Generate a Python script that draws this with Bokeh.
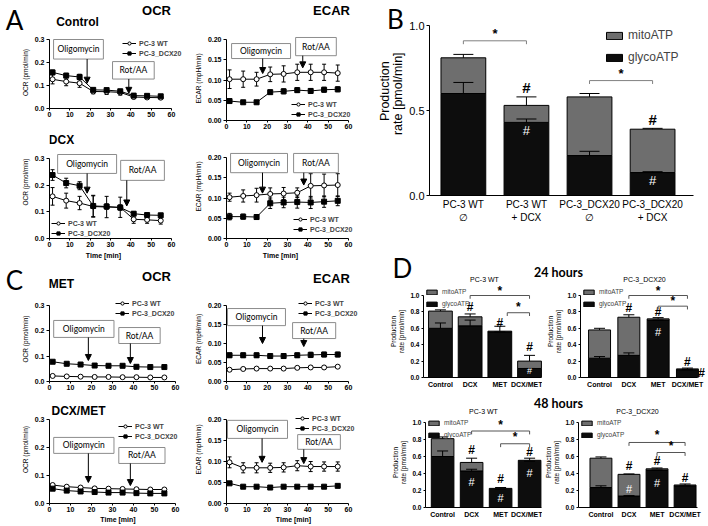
import math
from bokeh.plotting import figure
from bokeh.models import (Range1d, ColumnDataSource, Whisker, TeeHead, Label, BoxAnnotation,
                          Arrow, NormalHead, Legend, LegendItem, FixedTicker, NumeralTickFormatter)
from bokeh.layouts import row, column
from bokeh.embed import file_html
from bokeh.resources import INLINE

# ---------------- data ----------------
times = [1.5, 8.2, 14.8, 21.5, 28.1, 34.8, 41.4, 48.0, 54.7]
time_ticks = [0, 10, 20, 30, 40, 50, 60]
ocr_ticks = [0.0, 0.1, 0.2, 0.3]
ecar_ticks = [0.0, 0.05, 0.10, 0.15, 0.20]
series_names = ["PC-3 WT", "PC-3_DCX20"]

ctrl_ocr_wt = [0.127, 0.117, 0.110, 0.074, 0.073, 0.070, 0.050, 0.048, 0.047]
ctrl_ocr_wt_err = [0.020, 0.018, 0.018, 0.010, 0.012, 0.012, 0.007, 0.006, 0.006]
ctrl_ocr_dcx = [0.157, 0.143, 0.137, 0.081, 0.080, 0.075, 0.056, 0.055, 0.053]
ctrl_ocr_dcx_err = [0.010, 0.010, 0.012, 0.006, 0.006, 0.006, 0.004, 0.004, 0.004]

ctrl_ecar_wt = [0.102, 0.102, 0.102, 0.114, 0.115, 0.119, 0.119, 0.119, 0.117]
ctrl_ecar_wt_err = [0.023, 0.020, 0.017, 0.018, 0.020, 0.020, 0.020, 0.020, 0.020]
ctrl_ecar_dcx = [0.048, 0.045, 0.045, 0.070, 0.072, 0.075, 0.073, 0.076, 0.077]
ctrl_ecar_dcx_err = [0.003, 0.004, 0.004, 0.005, 0.006, 0.006, 0.006, 0.006, 0.006]

dcx_ocr_wt = [0.158, 0.142, 0.133, 0.120, 0.118, 0.117, 0.072, 0.070, 0.067]
dcx_ocr_wt_err = [0.033, 0.028, 0.025, 0.040, 0.040, 0.038, 0.015, 0.013, 0.013]
dcx_ocr_dcx = [0.238, 0.208, 0.198, 0.122, 0.120, 0.116, 0.093, 0.088, 0.087]
dcx_ocr_dcx_err = [0.020, 0.018, 0.015, 0.040, 0.010, 0.010, 0.007, 0.006, 0.006]

dcx_ecar_wt = [0.102, 0.105, 0.107, 0.110, 0.111, 0.113, 0.130, 0.131, 0.132]
dcx_ecar_wt_err = [0.010, 0.015, 0.017, 0.015, 0.015, 0.012, 0.030, 0.028, 0.028]
dcx_ecar_dcx = [0.054, 0.054, 0.053, 0.087, 0.089, 0.090, 0.089, 0.091, 0.093]
dcx_ecar_dcx_err = [0.008, 0.006, 0.006, 0.013, 0.013, 0.015, 0.015, 0.014, 0.012]

met_ocr_wt = [0.022, 0.020, 0.019, 0.018, 0.018, 0.017, 0.017, 0.016, 0.016]
met_ocr_wt_err = [0.002, 0.002, 0.002, 0.002, 0.002, 0.002, 0.002, 0.002, 0.002]
met_ocr_dcx = [0.078, 0.070, 0.067, 0.063, 0.062, 0.062, 0.058, 0.057, 0.057]
met_ocr_dcx_err = [0.003, 0.003, 0.003, 0.003, 0.003, 0.003, 0.003, 0.003, 0.003]

met_ecar_wt = [0.031, 0.033, 0.034, 0.034, 0.034, 0.036, 0.037, 0.037, 0.039]
met_ecar_wt_err = [0.003, 0.003, 0.003, 0.003, 0.003, 0.003, 0.003, 0.003, 0.003]
met_ecar_dcx = [0.069, 0.069, 0.069, 0.067, 0.067, 0.069, 0.070, 0.071, 0.071]
met_ecar_dcx_err = [0.006, 0.006, 0.006, 0.006, 0.006, 0.006, 0.007, 0.006, 0.006]

dm_ocr_wt = [0.066, 0.060, 0.057, 0.054, 0.053, 0.052, 0.051, 0.050, 0.050]
dm_ocr_wt_err = [0.004, 0.004, 0.004, 0.004, 0.004, 0.004, 0.004, 0.004, 0.004]
dm_ocr_dcx = [0.053, 0.046, 0.043, 0.041, 0.039, 0.039, 0.037, 0.036, 0.036]
dm_ocr_dcx_err = [0.003, 0.003, 0.003, 0.003, 0.003, 0.003, 0.003, 0.003, 0.003]

dm_ecar_wt = [0.098, 0.085, 0.085, 0.085, 0.086, 0.090, 0.088, 0.088, 0.088]
dm_ecar_wt_err = [0.013, 0.012, 0.012, 0.011, 0.011, 0.012, 0.012, 0.011, 0.011]
dm_ecar_dcx = [0.048, 0.040, 0.040, 0.038, 0.040, 0.040, 0.040, 0.040, 0.042]
dm_ecar_dcx_err = [0.003, 0.003, 0.003, 0.003, 0.003, 0.003, 0.003, 0.003, 0.003]

# ATP production rate (bars)
b_cats = ["PC-3 WT\n\u2205", "PC-3 WT\n+ DCX", "PC-3_DCX20\n\u2205", "PC-3_DCX20\n+ DCX"]
b_glyco = [0.600, 0.430, 0.235, 0.135]
b_mito = [0.210, 0.100, 0.345, 0.255]
b_glyco_err = [0.065, 0.020, 0.025, 0.005]
b_total_err = [0.020, 0.050, 0.020, 0.005]

d_cats = ["Control", "DCX", "MET", "DCX/MET"]
d24_wt_glyco = [0.600, 0.630, 0.555, 0.110]
d24_wt_mito = [0.210, 0.110, 0.010, 0.090]
d24_wt_glyco_err = [0.065, 0.070, 0.000, 0.000]
d24_wt_total_err = [0.015, 0.035, 0.060, 0.070]

d24_dcx_glyco = [0.235, 0.270, 0.700, 0.095]
d24_dcx_mito = [0.345, 0.465, 0.015, 0.010]
d24_dcx_glyco_err = [0.020, 0.030, 0.000, 0.000]
d24_dcx_total_err = [0.020, 0.030, 0.015, 0.010]

d48_wt_glyco = [0.600, 0.430, 0.215, 0.545]
d48_wt_mito = [0.210, 0.100, 0.010, 0.010]
d48_wt_glyco_err = [0.065, 0.020, 0.000, 0.000]
d48_wt_total_err = [0.020, 0.050, 0.010, 0.025]

d48_dcx_glyco = [0.235, 0.135, 0.440, 0.255]
d48_dcx_mito = [0.345, 0.255, 0.015, 0.010]
d48_dcx_glyco_err = [0.020, 0.005, 0.000, 0.000]
d48_dcx_total_err = [0.015, 0.005, 0.010, 0.012]

# ---------------- helpers ----------------
LS = "Liberation Sans"
LATO = "Lato"
GRAY = "#6e6e6e"
DARK = "#0d0d0d"


def base_fig(w, h, bl, bb, xr, yr):
    p = figure(width=w, height=h, x_range=Range1d(*xr), y_range=Range1d(*yr),
               output_backend="svg", toolbar_location=None, title=None,
               min_border_left=bl, min_border_right=0, min_border_top=0, min_border_bottom=bb)
    p.xgrid.visible = False
    p.ygrid.visible = False
    p.outline_line_color = None
    p.background_fill_color = "white"
    p.border_fill_color = "white"
    return p


def mapper(fx0, fx1, fy0, fy1, xr, yr):
    def f(rx, ry):
        x = xr[0] + (rx - fx0) / (fx1 - fx0) * (xr[1] - xr[0])
        y = yr[0] + (fy1 - ry) / (fy1 - fy0) * (yr[1] - yr[0])
        return x, y
    return f


def style_axis(ax, fs, bold, tick_out):
    ax.axis_line_color = "black"
    ax.axis_line_width = 1
    ax.major_tick_line_color = "black" if tick_out > 0 else None
    ax.major_tick_out = tick_out
    ax.major_tick_in = 0
    ax.minor_tick_line_color = None
    ax.major_label_text_font = LS
    ax.major_label_text_font_size = fs
    ax.major_label_text_font_style = "bold" if bold else "normal"
    ax.major_label_text_color = "black"
    ax.major_label_standoff = 2
    ax.axis_label_text_font = LS
    ax.axis_label_text_font_style = "normal"
    ax.axis_label_text_color = "black"
    ax.axis_label_standoff = 3


def add_text(p, x, y, s, size, bold=False, font=LS, color="black", align="center",
             baseline="middle", angle=0.0):
    p.add_layout(Label(x=x, y=y, text=s, text_font=font, text_font_size=f"{size}px",
                       text_font_style="bold" if bold else "normal", text_color=color,
                       text_align=align, text_baseline=baseline, angle=angle))


def line_panel(origin, w, h, bl, bb, x60_ref, ytop_ref, ymax, yticks, yfmt, ylabel,
               wt, wt_err, dx, dx_err, boxes, leg_xy, texts, xlabel=False):
    ox, oy = origin
    fx0, fx1, fy0, fy1 = ox + bl, ox + w, oy, oy + h - bb
    x_end = 60 * (fx1 - fx0) / (x60_ref - fx0)
    y_end = ymax * (fy1 - fy0) / (fy1 - ytop_ref)
    p = base_fig(w, h, bl, bb, (0, x_end), (0, y_end))
    R = mapper(fx0, fx1, fy0, fy1, (0, x_end), (0, y_end))
    style_axis(p.xaxis[0], "7px", True, 2)
    style_axis(p.yaxis[0], "7px", True, 3)
    p.xaxis.major_label_standoff = 1
    p.xaxis.bounds = (0, 60)
    p.yaxis.bounds = (0, ymax)
    p.xaxis.ticker = FixedTicker(ticks=time_ticks)
    p.yaxis.ticker = FixedTicker(ticks=yticks)
    p.yaxis.formatter = NumeralTickFormatter(format=yfmt)
    p.yaxis.axis_label = ylabel
    p.yaxis.axis_label_text_font_size = "6.5px"
    p.yaxis.axis_label_standoff = 3
    if xlabel:
        p.xaxis.axis_label = "Time [min]"
        p.xaxis.axis_label_text_font_size = "7px"
        p.xaxis.axis_label_text_font_style = "bold"
        p.xaxis.axis_label_standoff = 1

    rends = []
    for ys, es, marker, fill in ((wt, wt_err, "circle", "white"), (dx, dx_err, "square", "black")):
        src = ColumnDataSource(dict(x=times, y=ys,
                                    lo=[a - b for a, b in zip(ys, es)],
                                    hi=[a + b for a, b in zip(ys, es)]))
        p.add_layout(Whisker(source=src, base="x", lower="lo", upper="hi", line_color="black",
                             line_width=1,
                             upper_head=TeeHead(size=4, line_color="black", line_width=1),
                             lower_head=TeeHead(size=4, line_color="black", line_width=1)))
        l = p.line("x", "y", source=src, line_color="black", line_width=1)
        s = p.scatter("x", "y", source=src, marker=marker, size=5, fill_color=fill,
                      line_color="black", line_width=1)
        rends.append([l, s])

    for name, l, r, b, t, axx, ay0, ay1 in boxes:
        p.add_layout(BoxAnnotation(left=l, right=r, bottom=b, top=t, fill_color="white",
                                   fill_alpha=1, line_color="#8c8c8c", line_width=1, line_alpha=1))
        add_text(p, (l + r) / 2, (b + t) / 2, name, 8.5, False, LATO)
        p.add_layout(Arrow(x_start=axx, y_start=ay0, x_end=axx, y_end=ay1, line_color="black",
                           line_width=1,
                           end=NormalHead(size=6, fill_color="black", line_color="black")))

    legend = Legend(items=[LegendItem(label=series_names[0], renderers=rends[0]),
                           LegendItem(label=series_names[1], renderers=rends[1])],
                    location=leg_xy, label_text_font=LS, label_text_font_size="7px",
                    label_text_font_style="bold", glyph_width=14, glyph_height=8,
                    label_height=8, spacing=2, padding=0, margin=0, label_standoff=3,
                    background_fill_alpha=0, border_line_alpha=0)
    p.add_layout(legend)

    for s, rx, ry, size, bold, font in texts:
        x, y = R(rx, ry)
        add_text(p, x, y, s, size, bold, font)
    return p


def bar_panel(origin, w, h, bl, bb, x_start, spacing, x_axis_end, one_ref, cats,
              glyco, mito, gerr, terr, bw, cap,
              tick_fs, tick_bold, tick_out, cat_fs, cat_bold, yticks, ylabel, ylabel_fs,
              leg_xy, leg_glyph, leg_fs, leg_spacing, marks, brackets, bcolor, star_fs, btick):
    ox, oy = origin
    fx0, fx1, fy0, fy1 = ox + bl, ox + w, oy, oy + h - bb
    x_end = x_start + (fx1 - fx0) / spacing
    y_end = (fy1 - fy0) / (fy1 - one_ref)
    p = base_fig(w, h, bl, bb, (x_start, x_end), (0, y_end))
    style_axis(p.xaxis[0], cat_fs, cat_bold, 0)
    style_axis(p.yaxis[0], tick_fs, tick_bold, tick_out)
    p.xaxis.bounds = (x_start, x_axis_end)
    p.yaxis.bounds = (0, 1.0)
    idx = list(range(len(cats)))
    p.xaxis.ticker = FixedTicker(ticks=idx)
    p.xaxis.major_label_overrides = {i: c for i, c in zip(idx, cats)}
    p.xaxis.major_label_standoff = 3
    p.yaxis.ticker = FixedTicker(ticks=yticks)
    p.yaxis.formatter = NumeralTickFormatter(format="0.0")
    if ylabel:
        p.yaxis.axis_label = ylabel
        p.yaxis.axis_label_text_font_size = ylabel_fs
        p.yaxis.axis_label_standoff = 2

    total = [g + m for g, m in zip(glyco, mito)]
    src = ColumnDataSource(dict(x=idx, glyco=glyco, total=total,
                                gtop=[g + e for g, e in zip(glyco, gerr)],
                                ttop=[t + e for t, e in zip(total, terr)]))
    rg = p.vbar(x="x", width=bw, bottom=0, top="glyco", source=src, fill_color=DARK,
                line_color="black", line_width=1)
    rm = p.vbar(x="x", width=bw, bottom="glyco", top="total", source=src, fill_color=GRAY,
                line_color="black", line_width=1)
    for lo, hi in (("glyco", "gtop"), ("total", "ttop")):
        p.add_layout(Whisker(source=src, base="x", lower=lo, upper=hi, line_color="black",
                             line_width=1, level="annotation", lower_head=None,
                             upper_head=TeeHead(size=cap, line_color="black", line_width=1)))

    gw, gh = leg_glyph
    legend = Legend(items=[LegendItem(label="mitoATP", renderers=[rm]),
                           LegendItem(label="glycoATP", renderers=[rg])],
                    location=leg_xy, label_text_font=LS, label_text_font_size=leg_fs,
                    glyph_width=gw, glyph_height=gh, label_height=gh, spacing=leg_spacing,
                    padding=0, margin=0, label_standoff=4,
                    background_fill_alpha=0, border_line_alpha=0)
    p.add_layout(legend)

    for x, y, s, color, size in marks:
        add_text(p, x, y, s, size, color == "black", LS, color)
    for x0, x1, y, sy in brackets:
        for xs, ys, xe, ye in ((x0, y, x1, y), (x0, y, x0, y - btick), (x1, y, x1, y - btick)):
            p.add_layout(Arrow(x_start=xs, y_start=ys, x_end=xe, y_end=ye, start=None, end=None,
                               line_color=bcolor, line_width=1))
        add_text(p, (x0 + x1) / 2, sy, "*", star_fs, True)
    return p


def strip(origin, w, h, texts):
    ox, oy = origin
    p = figure(width=w, height=h, x_range=Range1d(ox, ox + w), y_range=Range1d(oy + h, oy),
               output_backend="svg", toolbar_location=None, title=None, min_border=0,
               x_axis_type=None, y_axis_type=None)
    p.outline_line_color = None
    p.xgrid.visible = False
    p.ygrid.visible = False
    for t in texts:
        s, rx, ry, size, bold, font = t[:6]
        angle = t[6] if len(t) > 6 else 0.0
        add_text(p, rx, ry, s, size, bold, font, angle=angle)
    return p


# ---------------- left column: OCR / ECAR ----------------
stripL1 = strip((0, 0), 360, 36,
                [("A", 14, 19, 26, False, LATO), ("OCR", 156, 10, 13, True, LS),
                 ("ECAR", 331, 10, 13, True, LS), ("Control", 77, 21, 12, True, LS)])

A1o = line_panel((0, 36), 186, 89, 49, 17, 171, 39, 0.3, ocr_ticks, "0.0", "OCR (pmol/min)",
                 ctrl_ocr_wt, ctrl_ocr_wt_err, ctrl_ocr_dcx, ctrl_ocr_dcx_err,
                 [("Oligomycin", 2, 26.5, 0.215, 0.30, 18.5, 0.215, 0.11),
                  ("Rot/AA", 31, 51.5, 0.128, 0.204, 39, 0.128, 0.066)],
                 (73, 51), [])
A2o = line_panel((0, 125), 186, 124, 49, 11, 171, 158, 0.3, ocr_ticks, "0.0", "OCR (pmol/min)",
                 dcx_ocr_wt, dcx_ocr_wt_err, dcx_ocr_dcx, dcx_ocr_dcx_err,
                 [("Oligomycin", 4, 33, 0.244, 0.315, 18.5, 0.244, 0.17),
                  ("Rot/AA", 35, 56.5, 0.218, 0.293, 38, 0.218, 0.122)],
                 (2, 1), [("DCX", 61, 139, 12, True, LS)])
A1e = line_panel((186, 36), 174, 98, 40, 14, 348, 39, 0.2, ecar_ticks, "0.00", "ECAR (mpH/min)",
                 ctrl_ecar_wt, ctrl_ecar_wt_err, ctrl_ecar_dcx, ctrl_ecar_dcx_err,
                 [("Oligomycin", 2.5, 31.5, 0.153, 0.19, 17.8, 0.153, 0.116),
                  ("Rot/AA", 34, 54, 0.160, 0.205, 37.5, 0.160, 0.130)],
                 (65, 2), [])
A2e = line_panel((186, 134), 174, 115, 40, 11, 348, 157, 0.2, ecar_ticks, "0.00", "ECAR (mpH/min)",
                 dcx_ecar_wt, dcx_ecar_wt_err, dcx_ecar_dcx, dcx_ecar_dcx_err,
                 [("Oligomycin", 2, 30, 0.1625, 0.21, 17.7, 0.1625, 0.112),
                  ("Rot/AA", 33, 55, 0.1625, 0.21, 38, 0.1625, 0.132)],
                 (67, 5), [])

stripL3 = strip((0, 249), 360, 47,
                [("Time [min]", 103, 255, 7, True, LS), ("Time [min]", 280, 255, 7, True, LS),
                 ("C", 14, 279, 26, False, LATO), ("MET", 61, 283, 12, True, LS),
                 ("OCR", 156, 276, 13, True, LS), ("ECAR", 331, 278, 13, True, LS)])

C1o = line_panel((0, 296), 186, 99, 49, 14, 175, 305, 0.3, ocr_ticks, "0.0", "OCR (pmol/min)",
                 met_ocr_wt, met_ocr_wt_err, met_ocr_dcx, met_ocr_dcx_err,
                 [("Oligomycin", 2, 30.7, 0.174, 0.241, 18.5, 0.174, 0.083),
                  ("Rot/AA", 33, 52.7, 0.150, 0.213, 38.5, 0.150, 0.071)],
                 (66, 64), [])
C2o = line_panel((0, 395), 186, 130, 49, 22, 175, 419, 0.3, ocr_ticks, "0.0", "OCR (pmol/min)",
                 dm_ocr_wt, dm_ocr_wt_err, dm_ocr_dcx, dm_ocr_dcx_err,
                 [("Oligomycin", 2, 30.7, 0.179, 0.236, 18.5, 0.179, 0.075),
                  ("Rot/AA", 33, 55, 0.143, 0.200, 38.5, 0.143, 0.064)],
                 (69, 63), [("DCX/MET", 78, 410, 12, True, LS)], xlabel=True)
C1e = line_panel((186, 296), 174, 99, 40, 14, 348, 305, 0.2, ecar_ticks, "0.00", "ECAR (mpH/min)",
                 met_ecar_wt, met_ecar_wt_err, met_ecar_dcx, met_ecar_dcx_err,
                 [("Oligomycin", 0.5, 29, 0.147, 0.192, 17.7, 0.147, 0.100),
                  ("Rot/AA", 32.5, 53.7, 0.113, 0.155, 38, 0.113, 0.092)],
                 (72, 64), [])
C2e = line_panel((186, 395), 174, 130, 40, 22, 348, 419, 0.2, ecar_ticks, "0.00", "ECAR (mpH/min)",
                 dm_ecar_wt, dm_ecar_wt_err, dm_ecar_dcx, dm_ecar_dcx_err,
                 [("Oligomycin", 0.5, 30, 0.155, 0.198, 17.5, 0.155, 0.098),
                  ("Rot/AA", 35, 56, 0.129, 0.164, 38, 0.129, 0.095)],
                 (69, 71), [], xlabel=True)

# ---------------- right column: bars ----------------
stripB = strip((360, 0), 46, 230,
               [("B", 395, 22, 26, False, LATO),
                ("Production", 384, 107, 12.5, False, LS, math.pi / 2),
                ("rate [pmol/min]", 397, 110, 12.5, False, LS, math.pi / 2)])

fB = bar_panel((406, 0), 301, 230, 22, 35, -0.537, 63.3, 3.65, 25, b_cats,
               b_glyco, b_mito, b_glyco_err, b_total_err, 0.71, 20,
               "11px", False, 3, "10px", False, [0.0, 0.5, 1.0], None, None,
               (175, 131), (20, 9), "12px", 8,
               [(1, 0.635, "#", "black", 15), (1, 0.38, "#", "white", 13),
                (3, 0.45, "#", "black", 15), (3, 0.09, "#", "white", 13)],
               [(0, 1, 0.91, 0.955), (2, 3, 0.676, 0.72)], "#808080", 13, 0.02)

stripD1 = strip((360, 230), 347, 55,
                [("D", 402, 267, 26, False, LATO), ("24 hours", 558, 272, 12.5, True, LATO),
                 ("PC-3 WT", 484, 279, 7, False, LS), ("PC-3_DCX20", 644, 279, 7, False, LS)])

d_yt = [0.0, 0.2, 0.4, 0.6, 0.8, 1.0]
d_ylab = "Production\nrate [pmol/min]"

D1L = bar_panel((360, 285), 182, 110, 63, 18, -0.57, 29.7, 3.4, 295, d_cats,
                d24_wt_glyco, d24_wt_mito, d24_wt_glyco_err, d24_wt_total_err, 0.8, 11,
                "6.5px", True, 2, "7px", True, d_yt, d_ylab, "6.5px",
                (2, 70), (13, 6), "6.5px", 5,
                [(1, 0.86, "#", "black", 12), (2, 0.67, "#", "black", 12),
                 (3, 0.37, "#", "black", 12), (3, 0.08, "#", "white", 9)],
                [(1, 3, 1.0, 1.06), (2.25, 3, 0.79, 0.86)], "#555555", 12, 0.04)
D1R = bar_panel((542, 285), 165, 110, 38, 18, -0.65, 29.3, 3.34, 295, d_cats,
                d24_dcx_glyco, d24_dcx_mito, d24_dcx_glyco_err, d24_dcx_total_err, 0.75, 11,
                "6.5px", True, 2, "7px", True, d_yt, d_ylab, "6.5px",
                (2, 70), (13, 6), "6.5px", 5,
                [(1, 0.85, "#", "black", 12), (2, 0.80, "#", "black", 12),
                 (2, 0.56, "#", "white", 11), (3, 0.19, "#", "black", 12),
                 (3.48, 0.05, "#", "black", 12)],
                [(1, 3, 1.0, 1.06), (2, 3, 0.87, 0.93)], "#555555", 12, 0.04)

stripD2 = strip((360, 395), 347, 22,
                [("48 hours", 558, 403, 12.5, True, LATO),
                 ("PC-3 WT", 483, 411, 7, False, LS), ("PC-3_DCX20", 637, 411, 7, False, LS)])

D2L = bar_panel((360, 417), 182, 108, 65, 18, -0.59, 29.0, 3.41, 422, d_cats,
                d48_wt_glyco, d48_wt_mito, d48_wt_glyco_err, d48_wt_total_err, 0.78, 11,
                "6.5px", True, 2, "7px", True, d_yt, d_ylab, "6.5px",
                (2, 69), (13, 6), "6.5px", 5,
                [(1, 0.68, "#", "black", 12), (1, 0.30, "#", "white", 11),
                 (2, 0.34, "#", "black", 12), (2, 0.115, "#", "white", 11),
                 (3, 0.65, "#", "black", 12), (3, 0.41, "#", "white", 11)],
                [(1, 3, 0.90, 0.97), (2, 3, 0.75, 0.83)], "#555555", 12, 0.04)
D2R = bar_panel((542, 417), 165, 108, 33, 18, -0.8, 28.7, 3.45, 422, d_cats,
                d48_dcx_glyco, d48_dcx_mito, d48_dcx_glyco_err, d48_dcx_total_err, 0.78, 11,
                "6.5px", True, 2, "7px", True, d_yt, d_ylab, "6.5px",
                (2, 69), (13, 6), "6.5px", 5,
                [(1, 0.49, "#", "black", 12), (1, 0.22, "#", "white", 11),
                 (2, 0.55, "#", "black", 12), (2, 0.29, "#", "white", 11),
                 (3, 0.35, "#", "black", 12)],
                [(1, 3, 0.765, 0.85), (2, 3, 0.647, 0.72)], "#555555", 12, 0.04)

left = column(stripL1,
              row(column(A1o, A2o), column(A1e, A2e)),
              stripL3,
              row(column(C1o, C2o), column(C1e, C2e)))
right = column(row(stripB, fB), stripD1, row(D1L, D1R), stripD2, row(D2L, D2R))
page = row(left, right)

open("out.html", "w").write(file_html(page, INLINE, title="OCR ECAR ATP"))
